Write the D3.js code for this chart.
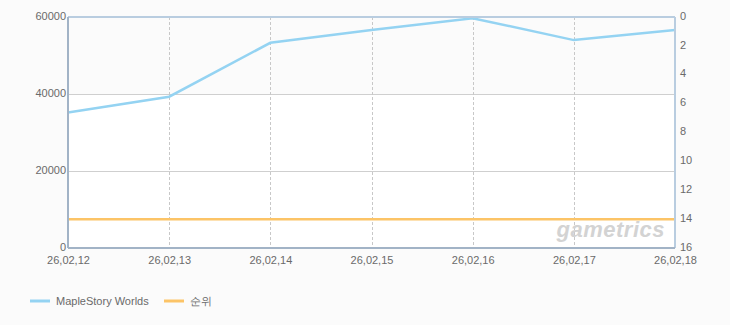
<!DOCTYPE html>
<html>
<head>
<meta charset="utf-8">
<script src="https://cdn.jsdelivr.net/npm/d3@7"></script>
<style>
  html, body { margin: 0; padding: 0; background: #fbfbfb; }
  #chart { width: 730px; height: 325px; }
  text { font-family: "Liberation Sans", Arial, sans-serif; }
</style>
</head>
<body>
<div id="chart"></div>
<script>
'use strict';

// chart data
var categories = ['26,02,12', '26,02,13', '26,02,14', '26,02,15', '26,02,16', '26,02,17', '26,02,18']
var usersValues = [35200, 39300, 53300, 56600, 59700, 54000, 56600]
var rankValues = [14, 14, 14, 14, 14, 14, 14]
var leftTicks = [0, 20000, 40000, 60000]
var rightTicks = [0, 2, 4, 6, 8, 10, 12, 14, 16]
var seriesNames = ['MapleStory Worlds', '순위']

var colors = { users: '#94d3f2', rank: '#fcc467', text: '#6a6a6a', grid: '#cfcfcf' }

var margin = {top: 17, right: 55, bottom: 77, left: 68},
    width = 730 - margin.left - margin.right,
    height = 325 - margin.top - margin.bottom;

var x = d3.scalePoint()
  .domain(categories)
  .range([0, width])

var y = d3.scaleLinear()
  .domain([0, 60000])
  .range([height, 0])

var yRank = d3.scaleLinear()
  .domain([0, 16])
  .range([0, height])

var root = d3.select('#chart').append('svg')
    .attr('width', 730)
    .attr('height', 325)

var svg = root.append('g')
    .attr('transform', 'translate(' + margin.left + ',' + margin.top + ')')

// plot background, top band slightly grey
svg.append('rect')
  .attr('width', width).attr('height', height)
  .attr('fill', '#ffffff')
svg.append('rect')
  .attr('width', width).attr('height', y(40000))
  .attr('fill', '#fbfbfb')

// horizontal grid
svg.selectAll('.hgrid')
  .data(leftTicks.filter(function(d){ return d > 0 && d < 60000 }))
  .enter().append('line')
    .attr('x1', 0).attr('x2', width)
    .attr('y1', function(d){ return y(d) + 0.5 })
    .attr('y2', function(d){ return y(d) + 0.5 })
    .attr('stroke', colors.grid)

// vertical dashed grid
svg.selectAll('.vgrid')
  .data(categories.slice(1, -1))
  .enter().append('line')
    .attr('x1', function(d){ return Math.round(x(d)) + 0.5 })
    .attr('x2', function(d){ return Math.round(x(d)) + 0.5 })
    .attr('y1', 0).attr('y2', height)
    .attr('stroke', '#c8c8c8')
    .attr('stroke-dasharray', '3,2')

// watermark
svg.append('text')
  .attr('x', width - 10)
  .attr('y', height - 11)
  .attr('text-anchor', 'end')
  .attr('font-size', '22px')
  .attr('font-weight', 'bold')
  .attr('font-style', 'italic')
  .attr('letter-spacing', '0.5px')
  .attr('fill', '#d3d3d3')
  .text('gametrics')

// lines
var userLine = d3.line()
  .x(function(d, i){ return x(categories[i]) })
  .y(function(d){ return y(d) })

var rankLine = d3.line()
  .x(function(d, i){ return x(categories[i]) })
  .y(function(d){ return yRank(d) })

svg.append('path')
  .datum(rankValues)
  .attr('d', rankLine)
  .attr('fill', 'none')
  .attr('stroke', colors.rank)
  .attr('stroke-width', 2.5)

svg.append('path')
  .datum(usersValues)
  .attr('d', userLine)
  .attr('fill', 'none')
  .attr('stroke', colors.users)
  .attr('stroke-width', 2.5)

// frame
svg.append('line').attr('x1', 0).attr('x2', width).attr('y1', 0).attr('y2', 0)
  .attr('stroke', '#b9cde0').attr('stroke-width', 2)
svg.append('line').attr('x1', width).attr('x2', width).attr('y1', 0).attr('y2', height)
  .attr('stroke', '#b9cde0').attr('stroke-width', 2)
svg.append('line').attr('x1', 0).attr('x2', 0).attr('y1', 0).attr('y2', height)
  .attr('stroke', '#a2b3c6').attr('stroke-width', 2)
svg.append('line').attr('x1', 0).attr('x2', width).attr('y1', height).attr('y2', height)
  .attr('stroke', '#a2b3c6').attr('stroke-width', 2)

// axes
var leftAxis = d3.axisLeft(y).tickValues(leftTicks).tickFormat(d3.format('d')).tickSize(0).tickPadding(2)
var rightAxis = d3.axisRight(yRank).tickValues(rightTicks).tickSize(0).tickPadding(5)
var bottomAxis = d3.axisBottom(x).tickSize(0).tickPadding(8)

function styleAxis(g) {
  g.select('.domain').remove()
  g.selectAll('text')
    .attr('fill', colors.text)
    .attr('font-size', '11px')
    .attr('font-family', '"Liberation Sans", Arial, sans-serif')
}

svg.append('g').call(leftAxis).call(styleAxis)
  .selectAll('text').attr('dy', '0.2em')
svg.append('g').attr('transform', 'translate(' + width + ',0)').call(rightAxis).call(styleAxis)
  .selectAll('text').attr('dy', '0.2em')
svg.append('g').attr('transform', 'translate(0,' + height + ')').call(bottomAxis).call(styleAxis)

// legend
var legendX = [30, 164]
var legendColors = [colors.users, colors.rank]
var legend = root.selectAll('.legend')
  .data(seriesNames)
  .enter().append('g')
    .attr('transform', function(d, i){ return 'translate(' + legendX[i] + ',301)' })

legend.append('line')
  .attr('x1', 0).attr('x2', 20)
  .attr('stroke', function(d, i){ return legendColors[i] })
  .attr('stroke-width', 3)

legend.append('text')
  .attr('x', 26)
  .attr('y', 4)
  .attr('font-size', '11px')
  .attr('fill', colors.text)
  .text(function(d){ return d })
</script>
</body>
</html>
